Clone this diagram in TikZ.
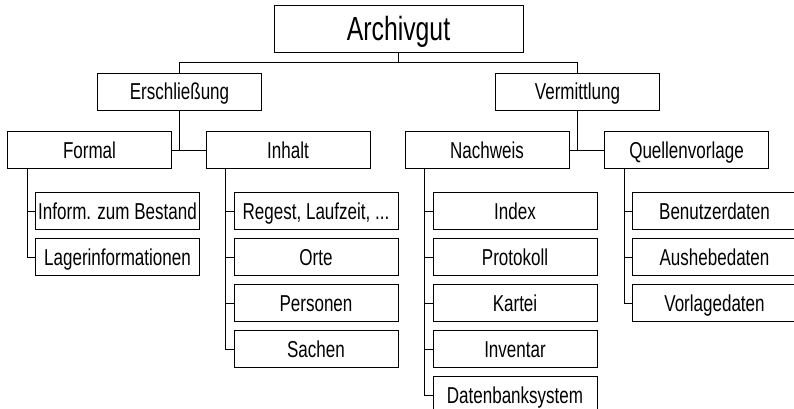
\documentclass[tikz,border=0pt]{standalone}
\usepackage{fontspec}
\setmainfont{Liberation Sans}[FakeStretch=0.74]
\usepackage{tikz}
\usetikzlibrary{positioning}

\begin{document}
\begin{tikzpicture}[
    x=1pt, y=-1pt, line width=1pt,
    box/.style={draw, minimum width=164pt, minimum height=37pt, inner sep=0pt,
                text height=16pt, text depth=0pt,
                font=\fontsize{23}{27}\selectfont},
    rootbox/.style={box, minimum width=249pt, minimum height=47pt,
                text height=24pt, font=\fontsize{33.5}{38}\selectfont}
]
\useasboundingbox (0,0) rectangle (794,408);

\node[rootbox] (arch) at (398.5,28.5) {Archivgut};
\node[box] (ersch)  at (179.5,91.5) {Erschließung};
\node[box] (verm)   at (577.5,91.5) {Vermittlung};
\node[box] (formal) at (89.5,150)   {Formal};
\node[box] (inhalt) at (288,150)    {Inhalt};
\node[box] (nachw)  at (487,150)    {Nachweis};
\node[box] (quell)  at (686.5,150)  {Quellenvorlage};

% Formal
\node[box, below right=23pt and 28pt of formal.south west] (bestand) {Inform. zum Bestand};
\node[box, below=8pt of bestand] (lager) {Lagerinformationen};
% Inhalt
\node[box, below right=23pt and 28pt of inhalt.south west] (regest) {Regest, Laufzeit, ...};
\node[box, below=8pt of regest] (orte) {Orte};
\node[box, below=8pt of orte]   (pers) {Personen};
\node[box, below=8pt of pers]   (sach) {Sachen};
% Nachweis
\node[box, below right=23pt and 28pt of nachw.south west] (index) {Index};
\node[box, below=8pt of index] (prot) {Protokoll};
\node[box, below=8pt of prot]  (kart) {Kartei};
\node[box, below=8pt of kart]  (inv)  {Inventar};
\node[box, below=8pt of inv]   (dbs)  {Datenbanksystem};
% Quellenvorlage
\node[box, below right=23pt and 28pt of quell.south west] (benu) {Benutzerdaten};
\node[box, below=8pt of benu] (aush) {Aushebedaten};
\node[box, below=8pt of aush] (vorl) {Vorlagedaten};

% Verbindungen
\coordinate[below=10pt of arch.south] (junc);
\draw (arch.south) -- (junc);
\draw (ersch.north) |- (junc) -| (verm.north);
\draw (ersch.south) |- (formal.east);
\draw (formal.east) -- (inhalt.west);
\draw (verm.south) |- (nachw.east);
\draw (nachw.east) -- (quell.west);

\foreach \c in {bestand,lager}
  \draw ([xshift=20pt]formal.south west) |- (\c.west);
\foreach \c in {regest,orte,pers,sach}
  \draw ([xshift=20pt]inhalt.south west) |- (\c.west);
\foreach \c in {index,prot,kart,inv,dbs}
  \draw ([xshift=20pt]nachw.south west) |- (\c.west);
\foreach \c in {benu,aush,vorl}
  \draw ([xshift=20pt]quell.south west) |- (\c.west);
\end{tikzpicture}
\end{document}
